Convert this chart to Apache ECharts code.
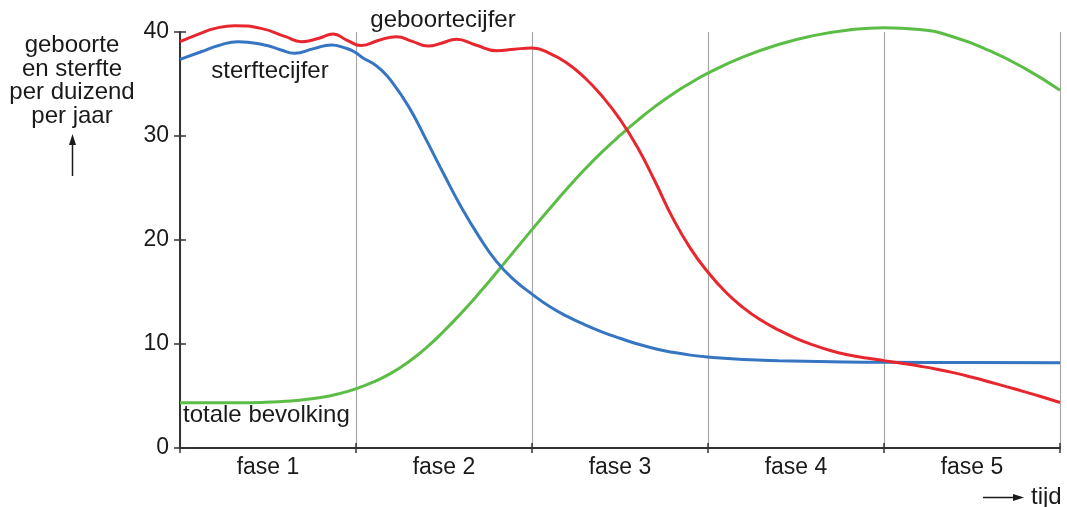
<!DOCTYPE html>
<html>
<head>
<meta charset="utf-8">
<script src="https://cdn.jsdelivr.net/npm/echarts@6/dist/echarts.min.js"></script>
<style>
  html, body { margin: 0; padding: 0; background: #fff; }
  #chart { width: 1067px; height: 507px; }
</style>
</head>
<body>
<div id="chart"></div>
<script>
// x in fases (0..5), y per duizend per jaar
const phases = ['fase 1', 'fase 2', 'fase 3', 'fase 4', 'fase 5'];
const yTicks = [0, 10, 20, 30, 40];

const birthRate = [
  [0, 39.07], [0.12, 39.9], [0.2, 40.35], [0.31, 40.6], [0.46, 40.35],
  [0.6, 39.55], [0.69, 39.07], [0.79, 39.4], [0.87, 39.8], [0.95, 39.2],
  [1.03, 38.7], [1.13, 39.2], [1.23, 39.55], [1.32, 39.1], [1.41, 38.65],
  [1.49, 38.95], [1.57, 39.3], [1.68, 38.75], [1.8, 38.2], [1.9, 38.35],
  [2.0, 38.45], [2.1, 37.95], [2.2, 37.0], [2.3, 35.6], [2.4, 33.8],
  [2.5, 31.6], [2.6, 28.9], [2.7, 25.6], [2.8, 22.1], [2.9, 19.2],
  [3.0, 16.9], [3.1, 15.0], [3.2, 13.5], [3.3, 12.3], [3.4, 11.35],
  [3.5, 10.55], [3.6, 9.9], [3.7, 9.35], [3.8, 8.95], [3.9, 8.65],
  [4.0, 8.4], [4.1, 8.15], [4.2, 7.88], [4.3, 7.58], [4.4, 7.22],
  [4.5, 6.8], [4.6, 6.35], [4.7, 5.88], [4.8, 5.4], [4.9, 4.9], [5.0, 4.38]
];
const deathRate = [
  [0, 37.37], [0.12, 38.1], [0.22, 38.7], [0.33, 39.07], [0.48, 38.75],
  [0.57, 38.3], [0.65, 37.95], [0.76, 38.4], [0.86, 38.75], [0.94, 38.45],
  [0.99, 38.1], [1.04, 37.5], [1.09, 37.05], [1.14, 36.4], [1.2, 35.3],
  [1.3, 32.8], [1.4, 29.6], [1.5, 26.3], [1.6, 23.1], [1.7, 20.3],
  [1.8, 17.9], [1.9, 16.15], [2.0, 14.8], [2.1, 13.6], [2.2, 12.65],
  [2.3, 11.85], [2.4, 11.15], [2.5, 10.55], [2.6, 10.0], [2.7, 9.55],
  [2.8, 9.2], [2.9, 8.93], [3.0, 8.75], [3.2, 8.52], [3.4, 8.4],
  [3.7, 8.3], [4.0, 8.24], [4.5, 8.22], [5.0, 8.2]
];
const population = [
  [0, 4.36], [0.2, 4.34], [0.4, 4.36], [0.55, 4.45], [0.68, 4.6],
  [0.8, 4.85], [0.9, 5.2], [1.0, 5.7], [1.1, 6.35], [1.2, 7.2],
  [1.3, 8.3], [1.4, 9.65], [1.5, 11.25], [1.6, 13.0], [1.7, 14.9],
  [1.8, 16.9], [1.9, 18.95], [2.0, 21.0], [2.1, 23.0], [2.2, 24.95],
  [2.3, 26.8], [2.4, 28.5], [2.5, 30.05], [2.6, 31.5], [2.7, 32.85],
  [2.8, 34.05], [2.9, 35.1], [3.0, 36.05], [3.2, 37.6], [3.4, 38.8],
  [3.6, 39.65], [3.8, 40.2], [4.0, 40.42], [4.2, 40.25], [4.4, 39.5],
  [4.6, 38.2], [4.8, 36.5], [5.0, 34.4]
];

const FONT = '"Liberation Sans", Arial, sans-serif';
const INK = '#1a1a1a';
const AXIS = '#333';

const chart = echarts.init(document.getElementById('chart'));

const option = {
  backgroundColor: '#fff',
  animation: false,
  grid: { left: 180, right: 7, top: 32, bottom: 59, containLabel: false },
  xAxis: [
    {
      type: 'value', min: 0, max: 5, interval: 1,
      axisLine: { lineStyle: { color: AXIS, width: 2 } },
      axisTick: { show: true, length: 5, lineStyle: { color: AXIS, width: 1.5 } },
      axisLabel: { show: false },
      splitLine: { show: true, lineStyle: { color: '#a8a8a8', width: 1.2 } }
    },
    {
      type: 'category', data: phases, position: 'bottom',
      axisLine: { show: false }, axisTick: { show: false },
      axisLabel: { fontFamily: FONT, fontSize: 23, color: INK, margin: 8 }
    },
    {
      type: 'value', min: 0, max: 5, interval: 1, position: 'bottom',
      axisLine: { show: false },
      axisTick: { show: true, inside: true, length: 5, lineStyle: { color: AXIS, width: 1.5 } },
      axisLabel: { show: false }, splitLine: { show: false }
    }
  ],
  yAxis: [
    {
      type: 'value', min: 0, max: 40, interval: 10,
      axisLine: { show: true, lineStyle: { color: AXIS, width: 2 } },
      axisTick: { show: true, length: 6, lineStyle: { color: AXIS, width: 1.5 } },
      axisLabel: {
        fontFamily: FONT, fontSize: 23, color: INK, margin: 11,
        formatter: v => (yTicks.includes(v) ? String(v) : '')
      },
      splitLine: { show: false }
    },
    {
      type: 'value', min: 0, max: 40, interval: 10, position: 'left',
      axisLine: { show: false },
      axisTick: { show: true, inside: true, length: 6, lineStyle: { color: AXIS, width: 1.5 } },
      axisLabel: { show: false }, splitLine: { show: false }
    }
  ],
  series: [
    {
      name: 'totale bevolking', type: 'line', data: population, smooth: 0.5,
      symbol: 'none', clip: false, lineStyle: { color: '#5cbd46', width: 3 }, z: 3
    },
    {
      name: 'sterftecijfer', type: 'line', data: deathRate, smooth: 0.5,
      symbol: 'none', clip: false, lineStyle: { color: '#3575c2', width: 3 }, z: 4
    },
    {
      name: 'geboortecijfer', type: 'line', data: birthRate, smooth: 0.5,
      symbol: 'none', clip: false, lineStyle: { color: '#e8262d', width: 3 }, z: 5
    }
  ],
  graphic: [
    {
      type: 'text', x: 72, y: 34,
      style: {
        text: 'geboorte\nen sterfte\nper duizend\nper jaar',
        font: '24px ' + FONT, fill: INK, align: 'center', verticalAlign: 'top', lineHeight: 23.5
      }
    },
    { type: 'line', shape: { x1: 72.5, y1: 176, x2: 72.5, y2: 142 }, style: { stroke: INK, lineWidth: 1.5 } },
    { type: 'polygon', shape: { points: [[72.5, 134], [69, 145], [76, 145]] }, style: { fill: INK } },
    { type: 'line', shape: { x1: 983, y1: 497.5, x2: 1016, y2: 497.5 }, style: { stroke: INK, lineWidth: 1.5 } },
    { type: 'polygon', shape: { points: [[1024, 497.5], [1013, 494], [1013, 501]] }, style: { fill: INK } },
    {
      type: 'text', x: 1031, y: 497,
      style: { text: 'tijd', font: '24px ' + FONT, fill: INK, align: 'left', verticalAlign: 'middle' }
    },
    {
      type: 'text', x: 443, y: 20,
      style: { text: 'geboortecijfer', font: '24px ' + FONT, fill: INK, align: 'center', verticalAlign: 'middle' }
    },
    {
      type: 'text', x: 270, y: 71,
      style: { text: 'sterftecijfer', font: '24px ' + FONT, fill: INK, align: 'center', verticalAlign: 'middle' }
    },
    {
      type: 'text', x: 183, y: 415,
      style: { text: 'totale bevolking', font: '24px ' + FONT, fill: INK, align: 'left', verticalAlign: 'middle' }
    }
  ]
};

chart.setOption(option);
window.addEventListener('resize', () => chart.resize());
</script>
</body>
</html>
